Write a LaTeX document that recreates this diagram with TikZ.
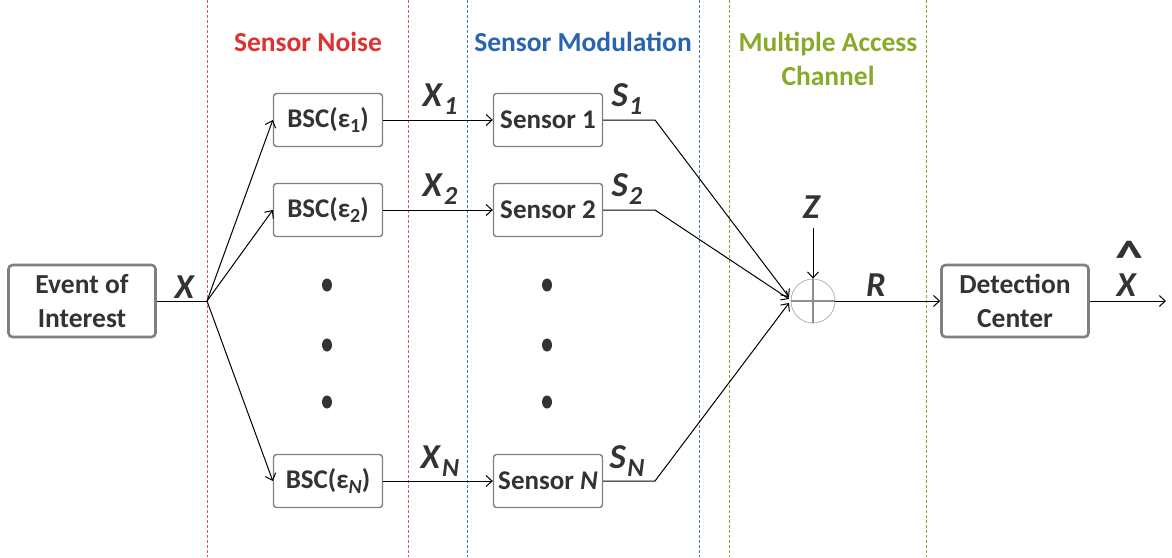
\documentclass[tikz,border=0pt]{standalone}
\usepackage{fontspec}
\setmainfont{Carlito}
\usetikzlibrary{arrows.meta,shapes.geometric}
\definecolor{cred}{RGB}{222,50,50}
\definecolor{cblue}{RGB}{40,100,175}
\definecolor{cgreen}{RGB}{135,170,40}
\definecolor{txt}{RGB}{51,51,51}
\definecolor{bord}{RGB}{128,128,128}
\newcommand\mylab[2]{\textbf{\textit{#1}}\kern1pt\raisebox{-0.5ex}{\fontsize{26}{28}\selectfont\textbf{\textit{#2}}}}
\newcommand\epsub[1]{\raisebox{-0.45ex}{\fontsize{20}{22}\selectfont #1}}
\begin{document}
\begin{tikzpicture}[x=1pt,y=-1pt,
  bigbox/.style={draw=bord, line width=2.6pt, rounded corners=4pt, minimum width=147pt, minimum height=72pt, align=center, text=txt, font=\fontsize{27.5}{34}\selectfont\bfseries},
  smallbox/.style={draw=bord, line width=1.4pt, rounded corners=3pt, minimum width=109pt, minimum height=53pt, inner sep=1pt, text=txt, font=\fontsize{27}{30}\selectfont\bfseries},
  lab/.style={text=txt, font=\fontsize{35}{36}\selectfont, inner sep=0pt},
  head/.style={font=\fontsize{27.5}{34}\selectfont\bfseries, align=center},
  sep/.style={dashed, line width=1pt, dash pattern=on 3pt off 2pt},
  wire/.style={line width=1pt, black},
  arr/.style={wire, -{Straight Barb[length=6pt,width=11pt]}},
  dot/.style={fill=txt, draw=none, ellipse, minimum width=10pt, minimum height=13pt, inner sep=0pt},
]
\useasboundingbox (0,0) rectangle (1172,557);
% section separators
\draw[sep, cred!85] (207,0) -- (207,557);
\draw[sep, cred!85] (408,0) -- (408,557);
\draw[sep, cblue!85] (467,0) -- (467,557);
\draw[sep, cblue!85] (699,0) -- (699,557);
\draw[sep, cgreen] (729,0) -- (729,557);
\draw[sep, cgreen] (926,0) -- (926,557);
% headers
\node[head, text=cred] (hnoise) at (308,42) {Sensor Noise};
\node[head, text=cblue] (hmod) at (583,42) {Sensor Modulation};
\node[head, text=cgreen] (hmac) at (828,59) {Multiple Access\\Channel};
% boxes
\node[bigbox] (ev) at (82,301) {Event of\\Interest};
\node[bigbox] (det) at (1015,301) {Detection\\Center};
\node[smallbox] (b1) at (328,120) {BSC(ε\epsub{1})};
\node[smallbox] (b2) at (328,210) {BSC(ε\epsub{2})};
\node[smallbox] (bn) at (328,481) {BSC(ε\epsub{\textit{N}})};
\node[smallbox] (s1) at (548,120) {Sensor 1};
\node[smallbox] (s2) at (548,210) {Sensor 2};
\node[smallbox] (sn) at (548,481) {Sensor \textit{N}};
% dots
\foreach \y [count=\i] in {285,345,402} {
  \node[dot] (dl\i) at (327,\y) {};
  \node[dot] (dr\i) at (547,\y) {};
}
% adder
\node[circle, draw=bord!60, line width=0.8pt, minimum size=44pt, inner sep=0pt] (add) at (813,301) {};
\draw[bord!90, line width=2.6pt] (add.north) -- (add.south);
\draw[bord!90, line width=2.6pt] (add.west) -- (add.east);
% branch
\coordinate (br) at (207,301);
\draw[wire] (ev.east) -- (br);
\draw[arr] (br) -- (b1.west);
\draw[arr] (br) -- (b2.west);
\draw[arr] (br) -- (bn.west);
\draw[arr] (b1.east) -- (s1.west);
\draw[arr] (b2.east) -- (s2.west);
\draw[arr] (bn.east) -- (sn.west);
\coordinate (k1) at (655,120);
\coordinate (k2) at (655,210);
\coordinate (kn) at (655,481);
\coordinate (in1) at (789,297);
\coordinate (in2) at (789,299);
\coordinate (inn) at (789,303);
\draw[arr] (s1.east) -- (k1) -- (in1);
\draw[arr] (s2.east) -- (k2) -- (in2);
\draw[arr] (sn.east) -- (kn) -- (inn);
\coordinate (zt) at (813,228);
\draw[arr] (zt) -- (add.north);
\draw[arr] (add.east) -- (det.west);
\coordinate (out) at (1166,301);
\draw[arr] (det.east) -- (out);
% labels
\node[lab] (lx) at (185,287) {\textbf{\textit{X}}};
\node[lab] (lx1) at (440,99) {\mylab{X}{1}};
\node[lab] (lx2) at (440,189) {\mylab{X}{2}};
\node[lab] (lxn) at (440,461) {\mylab{X}{N}};
\node[lab] (ls1) at (627,99) {\mylab{S}{1}};
\node[lab] (ls2) at (627,189) {\mylab{S}{2}};
\node[lab] (lsn) at (627,461) {\mylab{S}{N}};
\node[lab] (lz) at (812,207) {\textbf{\textit{Z}}};
\node[lab] (lr) at (876,285) {\textbf{\textit{R}}};
\node[lab, align=center, font=\fontsize{35}{13}\selectfont] (lxh) at (1127,269)
  {\hspace*{4pt}\scalebox{1.6}[1.35]{\textbf{\char"5E}}\\\textbf{\textit{X}}};
\end{tikzpicture}
\end{document}
